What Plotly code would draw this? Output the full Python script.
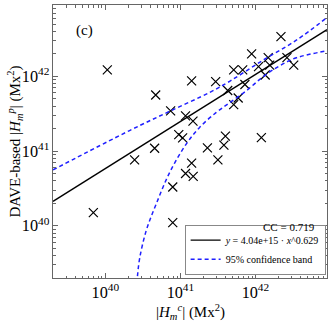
import numpy as np
import plotly.graph_objects as go

# Scatter data (|H_m^c|, DAVE-based |H_m^p|), Mx^2
hc = [1.06e40, 4.68e40, 4.53e40, 2.45e40, 6.9e39, 7.4e40, 1.17e41, 1.41e41, 1.47e41,
      9.5e40, 1.07e41, 1.41e41, 2.29e41, 3.16e41, 3.8e41, 3.98e41, 2.95e41, 4.27e41,
      5.13e41, 5.89e41, 5.13e41, 6.76e41, 7.24e41, 8.9e41, 1.10e42, 1.20e42, 1.35e42,
      1.48e42, 1.55e42, 2.19e42, 2.63e42, 3.24e42, 1.17e41, 1.48e41, 7.9e40, 7.9e40]
hp = [1.22e42, 5.62e41, 1.09e41, 7.6e40, 1.5e40, 3.44e41, 2.95e41, 8.7e41, 2.51e41,
      1.66e41, 1.5e41, 6.9e40, 1.10e41, 7.6e40, 1.2e41, 1.58e41, 8.5e41, 6.46e41,
      4.17e41, 5.13e41, 1.22e42, 1.22e42, 7.76e41, 2.0e42, 1.35e42, 1.51e41, 1.04e42,
      1.78e42, 1.41e42, 3.39e42, 1.78e42, 1.41e42, 5.0e40, 4.57e40, 3.3e40, 1.1e40]

# Power-law fit parameters (from legend)
fit_a = 4.04e15
fit_b = 0.629
fit_x = [2e39, 9e42]

# 95% confidence band
up_x = [2.0e39, 2.10e40, 7.18e40, 2.45e41, 4.53e41, 1.26e42, 3.51e42, 9.0e42]
up_y = [5.6e40, 1.88e41, 3.40e41, 6.08e41, 8.57e41, 1.64e42, 3.04e42, 6.1e42]
lo_x = [2.59e40, 2.66e40, 2.86e40, 3.51e40, 4.78e40, 7.18e40, 1.20e41, 1.80e41,
        3.01e41, 4.53e41, 7.57e41, 1.26e42, 2.10e42, 3.51e42, 9.0e42]
lo_y = [1.38e39, 2.0e39, 3.66e39, 8.7e39, 1.98e40, 5.16e40, 1.25e41, 2.07e41,
        3.29e41, 4.43e41, 6.41e41, 9.85e41, 1.38e42, 1.77e42, 2.19e42]

x_range = [2e39, 9e42]
y_range = [2e39, 9e42]

FONT = "Liberation Serif, Times New Roman, serif"
BLUE = "#1f1fff"

fig = go.Figure()
fig.add_trace(go.Scatter(x=hc, y=hp, mode="markers", showlegend=False,
                         marker=dict(symbol="x-thin", size=9, color="black",
                                     line=dict(color="black", width=1.2))))
fy = [fit_a * v ** fit_b for v in fit_x]
fig.add_trace(go.Scatter(x=fit_x, y=fy, mode="lines",
                         name="<i>y</i> = 4.04e+15 · <i>x</i>^0.629",
                         line=dict(color="black", width=1.3)))
fig.add_trace(go.Scatter(x=up_x, y=up_y, mode="lines", name="95% confidence band",
                         line=dict(color=BLUE, width=1.5, dash="4px,3px", shape="spline")))
fig.add_trace(go.Scatter(x=lo_x, y=lo_y, mode="lines", showlegend=False,
                         line=dict(color=BLUE, width=1.5, dash="4px,3px", shape="spline")))

axis_common = dict(type="log", dtick=1, exponentformat="power", showexponent="all",
                   showgrid=False, zeroline=False, showline=True, linecolor="#666",
                   linewidth=1, mirror="allticks", ticks="inside", ticklen=5,
                   tickcolor="#666", automargin=False,
                   tickfont=dict(size=13, family=FONT, color="black"),
                   minor=dict(ticks="inside", ticklen=2.5, tickcolor="#666", showgrid=False))

fig.update_xaxes(range=[np.log10(x_range[0]), np.log10(x_range[1])], **axis_common)
fig.update_yaxes(range=[np.log10(y_range[0]), np.log10(y_range[1])], **axis_common)

fig.add_annotation(x=0.5, y=-0.125, xref="paper", yref="paper",
                   text="|<i>H</i><sub><i>m</i></sub><sup><i>c</i></sup>| (Mx<sup>2</sup>)",
                   showarrow=False, font=dict(size=15, family=FONT),
                   xanchor="center", yanchor="middle")
fig.add_annotation(x=-0.142, y=0.5, xref="paper", yref="paper", textangle=-90,
                   text="DAVE-based |<i>H</i><sub><i>m</i></sub><sup><i>p</i></sup>| (Mx<sup>2</sup>)",
                   showarrow=False, font=dict(size=15, family=FONT),
                   xanchor="center", yanchor="middle")
fig.add_annotation(x=0.075, y=0.905, xref="paper", yref="paper", text="(c)",
                   showarrow=False, font=dict(size=15, family=FONT), xanchor="left", yanchor="middle")
fig.add_annotation(x=0.965, y=0.185, xref="paper", yref="paper", text="CC = 0.719",
                   showarrow=False, font=dict(size=11, family=FONT), xanchor="right", yanchor="middle")

fig.update_layout(width=333, height=325, margin=dict(l=53, r=6, t=5, b=47),
                  plot_bgcolor="white", paper_bgcolor="white",
                  font=dict(family=FONT, size=12, color="black"),
                  legend=dict(x=0.995, y=0.012, xanchor="right", yanchor="bottom",
                              bordercolor="#888", borderwidth=1, bgcolor="white",
                              font=dict(size=10, family=FONT), itemwidth=30,
                              tracegroupgap=0))

fig.write_html("out.html", config={"displayModeBar": False},
               post_script="document.body.style.margin='0';document.body.style.padding='0';document.body.style.overflow='hidden';")
